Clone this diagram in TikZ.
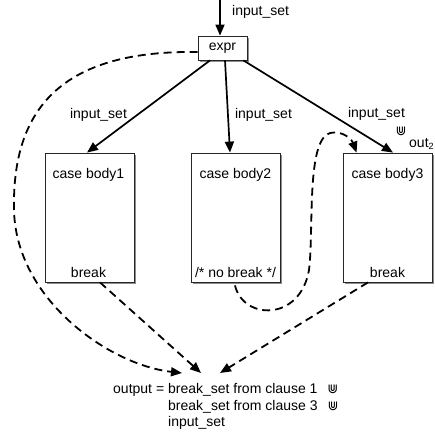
\documentclass[tikz,border=0pt]{standalone}
\usepackage{fontspec}
\setmainfont{Liberation Sans}
\newfontfamily\djv{DejaVu Sans}
\newcommand{\dcup}{{\djv\fontsize{13}{14}\selectfont ⋓}}
\usetikzlibrary{arrows.meta,backgrounds}
\begin{document}
\begin{tikzpicture}[x=1pt,y=-1pt,
  txt/.style={font=\fontsize{14}{16}\selectfont, inner sep=0pt},
  boxstyle/.style={draw=black!85, line width=0.8pt, fill=white,
    minimum width=89pt, minimum height=129pt, inner sep=0pt},
  exprbox/.style={draw=black!85, line width=0.8pt, fill=white,
    minimum width=49pt, minimum height=24pt, inner sep=0pt, font=\fontsize{14}{16}\selectfont},
  shade/.style={fill=black!45},
  solidarrow/.style={line width=1.7pt, -{Triangle[length=11pt,width=9pt]}},
  dasharrow/.style={line width=1.8pt, dash pattern=on 8pt off 5pt, -{Triangle[length=11pt,width=9pt]}}
]
\useasboundingbox (0,0) rectangle (435,436);

% nodes
\node[exprbox] (expr) at (222.5,48) {expr};
\node[boxstyle] (b1) at (89.5,217.5) {};
\node[boxstyle] (b2) at (235.5,217.5) {};
\node[boxstyle] (b3) at (387.5,217.5) {};

\begin{scope}[on background layer]
  \foreach \n in {expr,b1,b2,b3}{
    \fill[shade] ([shift={(2pt,-2pt)}]\n.south west) rectangle ([shift={(2pt,-2pt)}]\n.north east);
  }
\end{scope}

\node[txt] (b1t) at (88.5,175) {case body1};
\node[txt] (b1b) at (88.5,272) {break};
\node[txt] (b2t) at (235.5,175) {case body2};
\node[txt] (b2b) at (235.5,272) {/* no break */};
\node[txt] (b3t) at (387.5,175) {case body3};
\node[txt] (b3b) at (387.5,272) {break};

% labels
\node[txt, anchor=west] (ltop) at (232,12) {input\_set};
\node[txt] (l1) at (98.5,115) {input\_set};
\node[txt] (l2) at (263.5,115) {input\_set};
\node[txt] (l3) at (376.5,114) {input\_set};
\node[txt] (lcup) at (401,131) {\dcup};
\node[txt, anchor=west] (lout) at (409,144) {out\raisebox{-0.35ex}{\fontsize{9}{10}\selectfont 2}};

\node[txt, anchor=west] (o1txt) at (113,390) {output = break\_set from clause 1\hspace{10pt}\dcup};
\node[txt, anchor=west] (o2txt) at (168,407) {break\_set from clause 3\hspace{10pt}\dcup};
\node[txt, anchor=west] (o3txt) at (168,423) {input\_set};

% coordinates
\coordinate (top) at (220,0);
\coordinate (oa) at (182,373);
\coordinate (ob) at (201,373);
\coordinate (oc) at (220,373);

% solid arrows
\draw[solidarrow] (top) -- ([xshift=-2.5pt]expr.north);
\draw[solidarrow] ([xshift=-12.5pt]expr.south) -- ([xshift=-2.5pt]b1.north);
\draw[solidarrow] ([xshift=2.5pt]expr.south) -- ([xshift=-5.5pt]b2.north);
\draw[solidarrow] ([xshift=-4pt]expr.south east) -- ([xshift=5.5pt]b3.north);

% dashed arrows
\draw[dasharrow] ([yshift=-4pt]expr.west) .. controls (60,50) and (12,110) .. (14,210)
  .. controls (16,300) and (110,365) .. (oa);
\draw[dasharrow] ([xshift=10.5pt]b1.south) -- (ob);
\draw[dasharrow] ([xshift=-19.5pt]b3.south) -- (oc);
\draw[dasharrow] ([xshift=-0.5pt,yshift=-3pt]b2.south) .. controls (243,320) and (300,322) .. (309,270)
  .. controls (314,230) and (306,140) .. (330,133)
  .. controls (343,130) and (352,140) .. ([xshift=14pt]b3.north west);
\end{tikzpicture}
\end{document}
